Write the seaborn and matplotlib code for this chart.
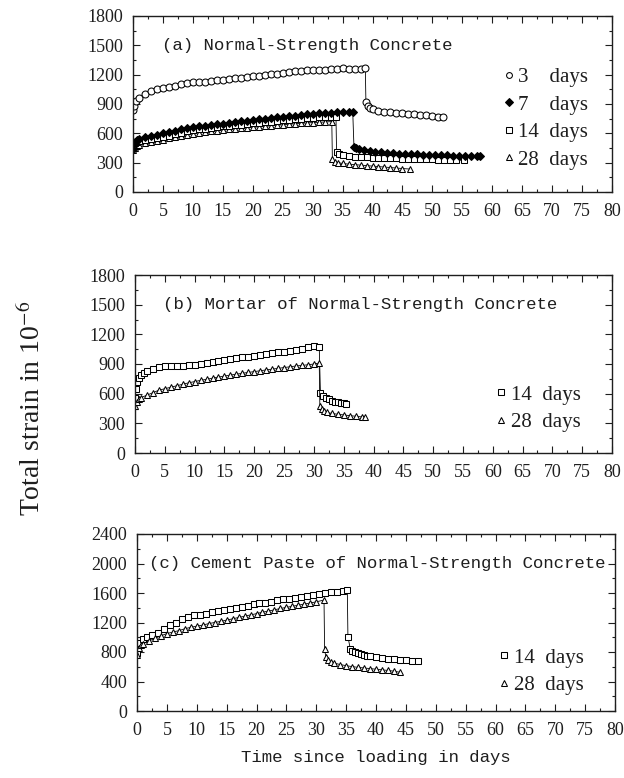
import matplotlib
matplotlib.use("Agg")
import matplotlib.pyplot as plt
import seaborn as sns
from matplotlib.ticker import MultipleLocator

# ---------------- data ----------------
x_ticks = list(range(0, 85, 5))

# (a) Normal-Strength Concrete
a3_day = [0, 0.2, 0.5, 1, 2, 3, 4, 5, 6, 7, 8, 9, 10, 11, 12, 13, 14, 15, 16, 17, 18, 19, 20,
          21, 22, 23, 24, 25, 26, 27, 28, 29, 30, 31, 32, 33, 34, 35, 36, 37, 38, 38.8,
          38.9, 39.2, 39.6, 40, 41, 42, 43, 44, 45, 46, 47, 48, 49, 50, 51, 51.8]
a3_strain = [835, 880, 930, 960, 1000, 1030, 1050, 1065, 1075, 1085, 1100, 1110, 1120, 1125,
             1130, 1140, 1145, 1150, 1160, 1165, 1170, 1180, 1185, 1190, 1195, 1205, 1210,
             1215, 1225, 1235, 1240, 1245, 1245, 1250, 1250, 1255, 1260, 1265, 1260, 1260,
             1260, 1265,
             920, 880, 860, 845, 830, 820, 815, 810, 805, 800, 795, 790, 785, 775, 770, 765]

a7_day = [0, 0.3, 0.6, 1, 2, 3, 4, 5, 6, 7, 8, 9, 10, 11, 12, 13, 14, 15, 16, 17, 18, 19, 20,
          21, 22, 23, 24, 25, 26, 27, 28, 29, 30, 31, 32, 33, 34, 35, 36, 36.7,
          36.9, 37.3, 37.8, 38.5, 39.5, 40.5, 41.5, 42.5, 43.5, 44.5, 45.5, 46.5, 47.5, 48.5,
          49.5, 50.5, 51.5, 52.5, 53.5, 54.5, 55.5, 56.5, 57.5, 58]
a7_strain = [440, 510, 535, 545, 560, 575, 585, 600, 615, 625, 640, 650, 660, 670, 680, 685,
             695, 700, 710, 715, 725, 730, 735, 745, 750, 755, 765, 770, 775, 780, 790, 795,
             800, 805, 810, 813, 815, 817, 820, 820,
             465, 450, 440, 430, 420, 413, 405, 400, 396, 393, 390, 387, 385, 382, 380, 378,
             376, 374, 372, 370, 369, 368, 366, 366]

a14_day = [0, 0.3, 0.6, 1, 2, 3, 4, 5, 6, 7, 8, 9, 10, 11, 12, 13, 14, 15, 16, 17, 18, 19, 20,
           21, 22, 23, 24, 25, 26, 27, 28, 29, 30, 31, 32, 33, 33.9,
           34.0, 34.4, 35, 36, 37, 38, 39, 40, 41, 42, 43, 44, 45, 46, 47, 48, 49, 50, 51,
           52, 53, 54, 55.2]
a14_strain = [470, 500, 515, 525, 535, 545, 555, 565, 575, 590, 605, 620, 632, 640, 648, 655,
              662, 670, 677, 683, 690, 697, 703, 710, 715, 720, 727, 733, 740, 745, 750, 755,
              760, 763, 766, 770, 770,
              410, 385, 375, 368, 362, 358, 355, 352, 350, 348, 346, 344, 342, 340, 338, 336,
              335, 334, 332, 330, 328, 327, 325]

a28_day = [0, 0.3, 0.6, 1, 2, 3, 4, 5, 6, 7, 8, 9, 10, 11, 12, 13, 14, 15, 16, 17, 18, 19, 20,
           21, 22, 23, 24, 25, 26, 27, 28, 29, 30, 31, 32, 33.2,
           33.3, 33.7, 34.3, 35, 36, 37, 38, 39, 40, 41, 42, 43, 44, 45, 46.2]
a28_strain = [430, 455, 470, 485, 500, 515, 525, 535, 550, 560, 575, 585, 595, 605, 612, 620,
              627, 633, 640, 645, 650, 656, 662, 667, 672, 677, 682, 688, 693, 698, 702, 706,
              710, 713, 716, 720,
              335, 310, 300, 292, 285, 280, 275, 270, 265, 260, 255, 250, 245, 240, 235]

# (b) Mortar of Normal-Strength Concrete
b14_day = [0, 0.2, 0.4, 0.7, 1, 1.5, 2, 3, 4, 5, 6, 7, 8, 9, 10, 11, 12, 13, 14, 15, 16, 17,
           18, 19, 20, 21, 22, 23, 24, 25, 26, 27, 28, 29, 30, 30.9,
           31.1, 31.5, 32, 32.5, 33, 33.5, 34, 34.5, 35, 35.4]
b14_strain = [560, 650, 720, 760, 790, 810, 830, 850, 865, 875, 880, 882, 884, 886, 890, 900,
              910, 922, 935, 945, 952, 960, 968, 975, 985, 992, 1000, 1010, 1018, 1025, 1032,
              1038, 1048, 1070, 1085, 1075,
              610, 580, 560, 545, 530, 520, 512, 505, 502, 500]

b28_day = [0, 0.3, 0.6, 1, 2, 3, 4, 5, 6, 7, 8, 9, 10, 11, 12, 13, 14, 15, 16, 17, 18, 19, 20,
           21, 22, 23, 24, 25, 26, 27, 28, 29, 30, 30.9,
           31.0, 31.3, 31.7, 32.2, 33, 34, 35, 36, 37, 38, 38.5]
b28_strain = [480, 520, 545, 560, 585, 610, 635, 650, 665, 680, 695, 710, 722, 735, 745, 757,
              768, 778, 788, 797, 806, 815, 823, 832, 840, 848, 856, 864, 872, 880, 886, 892,
              900, 910,
              475, 440, 420, 410, 400, 392, 385, 378, 372, 365, 360]

# (c) Cement Paste of Normal-Strength Concrete
c14_day = [0, 0.2, 0.5, 1, 1.6, 2.5, 3.5, 4.5, 5.5, 6.5, 7.5, 8.5, 9.5, 10.5, 11.5, 12.5, 13.5,
           14.5, 15.5, 16.5, 17.5, 18.5, 19.5, 20.5, 21.5, 22.5, 23.5, 24.5, 25.5, 26.5, 27.5,
           28.5, 29.5, 30.5, 31.5, 32.5, 33.5, 34.5, 35.2,
           35.3, 35.7, 36.0, 36.5, 37, 37.5, 38, 38.5, 39, 40, 41, 42, 43, 44, 45, 46, 47]
c14_strain = [780, 870, 920, 970, 1005, 1030, 1060, 1110, 1160, 1200, 1250, 1280, 1295, 1305,
              1320, 1340, 1360, 1375, 1385, 1400, 1410, 1430, 1450, 1460, 1470, 1480, 1500,
              1515, 1522, 1530, 1545, 1560, 1570, 1585, 1600, 1610, 1620, 1625, 1635,
              1010, 840, 820, 800, 785, 770, 758, 748, 740, 728, 718, 710, 702, 695, 688, 680,
              675]

c28_day = [0, 0.3, 0.6, 1, 2, 3, 4, 5, 6, 7, 8, 9, 10, 11, 12, 13, 14, 15, 16, 17, 18, 19, 20,
           21, 22, 23, 24, 25, 26, 27, 28, 29, 30, 31.3,
           31.4, 31.6, 32, 32.5, 33, 34, 35, 36, 37, 38, 39, 40, 41, 42, 43, 44]
c28_strain = [760, 850, 890, 915, 950, 985, 1020, 1050, 1070, 1090, 1115, 1135, 1150, 1165,
              1185, 1200, 1215, 1232, 1250, 1268, 1285, 1303, 1320, 1340, 1355, 1372, 1390,
              1405, 1420, 1435, 1450, 1465, 1480, 1505,
              835, 735, 690, 665, 650, 630, 615, 602, 592, 583, 575, 567, 558, 550, 540, 525]

titles = ["(a) Normal-Strength Concrete",
          "(b) Mortar of Normal-Strength Concrete",
          "(c) Cement Paste of Normal-Strength Concrete"]
legend_labels = {"3": "3    days", "7": "7    days", "14": "14  days", "28": "28  days"}
x_label = "Time since loading in days"
y_label = "Total strain in 10$^{-6}$"

# ---------------- styling ----------------
sns.set_style("ticks")
plt.rcParams["font.family"] = ["Liberation Serif", "DejaVu Serif"]
plt.rcParams["mathtext.fontset"] = "stix"
plt.rcParams["font.size"] = 13
INK = "#1e1e1e"
MONO = ["Liberation Mono", "DejaVu Sans Mono"]

fig = plt.figure(figsize=(6.24, 7.78), dpi=100)
W, H = 624.0, 778.0


def make_ax(left, right, top, bottom):
    return fig.add_axes([left / W, 1 - bottom / H, (right - left) / W, (bottom - top) / H])


ax_a = make_ax(133, 612, 16, 192)
ax_b = make_ax(135, 612, 275, 453)
ax_c = make_ax(137, 615, 534, 711)

marker_style = {
    "3": dict(marker="o", mfc="white", ms=5.0),
    "7": dict(marker="D", mfc="black", ms=4.2),
    "14": dict(marker="s", mfc="white", ms=4.6),
    "28": dict(marker="^", mfc="white", ms=4.6),
}


def draw(ax, day, strain, age):
    st = marker_style[age]
    sns.lineplot(x=day, y=strain, ax=ax, color="black", lw=0.6, marker=st["marker"],
                 markersize=st["ms"], markerfacecolor=st["mfc"], markeredgecolor="black",
                 markeredgewidth=0.75, sort=False, estimator=None, errorbar=None,
                 label=legend_labels[age])


draw(ax_a, a28_day, a28_strain, "28")
draw(ax_a, a14_day, a14_strain, "14")
draw(ax_a, a7_day, a7_strain, "7")
draw(ax_a, a3_day, a3_strain, "3")
draw(ax_b, b14_day, b14_strain, "14")
draw(ax_b, b28_day, b28_strain, "28")
draw(ax_c, c14_day, c14_strain, "14")
draw(ax_c, c28_day, c28_strain, "28")


def style_axis(ax, ymax, ystep, title, title_x, title_y, order, leg_anchor):
    ax.set_xlim(0, 80)
    ax.set_ylim(0, ymax)
    ax.set_xticks(x_ticks)
    ax.xaxis.set_minor_locator(MultipleLocator(2.5))
    ax.yaxis.set_major_locator(MultipleLocator(ystep))
    ax.yaxis.set_minor_locator(MultipleLocator(ystep / 2))
    ax.tick_params(which="both", direction="in", top=True, right=True, colors=INK,
                   labelcolor=INK, width=0.8)
    ax.tick_params(which="major", length=5)
    ax.tick_params(which="minor", length=2.5)
    ax.tick_params(axis="x", which="major", pad=8, labelsize=13)
    ax.tick_params(axis="y", which="major", pad=7, labelsize=13)
    for sp in ax.spines.values():
        sp.set_visible(True)
        sp.set_color(INK)
        sp.set_linewidth(1.0)
    ax.set_xlabel("")
    ax.set_ylabel("")
    ax.text(title_x, title_y, title, family=MONO, fontsize=12.5, color=INK,
            ha="left", va="center")
    handles, labels = ax.get_legend_handles_labels()
    hmap = dict(zip(labels, handles))
    hs = [hmap[legend_labels[k]] for k in order]
    ls = [legend_labels[k] for k in order]
    leg = ax.legend(hs, ls, loc="center left", bbox_to_anchor=leg_anchor, frameon=False,
                    handlelength=0.6, handletextpad=0.15, labelspacing=0.38,
                    borderpad=0, borderaxespad=0,
                    prop={"family": "Liberation Serif", "size": 15})
    for h in leg.legend_handles:
        h.set_linestyle("None")
        h.set_markersize(4.2)
    for t in leg.get_texts():
        t.set_color(INK)


style_axis(ax_a, 1800, 300, titles[0], 4.8, 1500, ["3", "7", "14", "28"], (0.772, 0.4167))
style_axis(ax_b, 1800, 300, titles[1], 4.7, 1500, ["14", "28"], (0.755, 0.25))
style_axis(ax_c, 2400, 400, titles[2], 2.0, 2000, ["14", "28"], (0.755, 0.223))

ax_c.set_xlabel(x_label, family=MONO, fontsize=12.5, color=INK, labelpad=8)
fig.text(32 / W, 1 - 408 / H, y_label, rotation=90, ha="center", va="center",
         fontsize=20, color=INK)

fig.savefig("out.png", dpi=100)
